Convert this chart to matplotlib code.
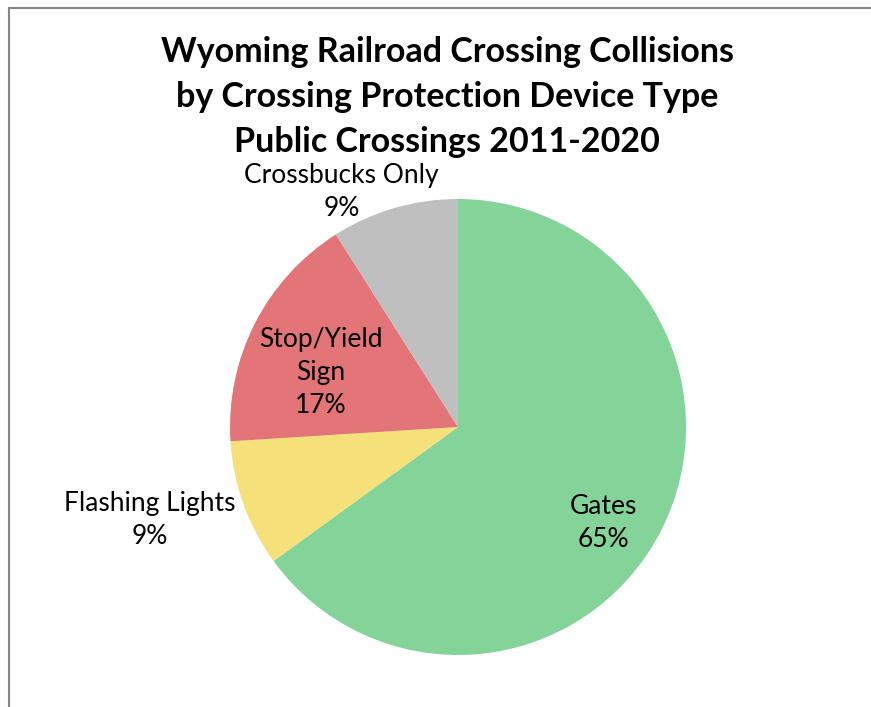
import matplotlib
matplotlib.use("Agg")
import matplotlib.pyplot as plt
from matplotlib.lines import Line2D

plt.rcParams["font.family"] = ["Lato", "DejaVu Sans"]

# Collisions by protection device type, share of total (%)
categories = ["Gates", "Flashing Lights", "Stop/Yield\nSign", "Crossbucks Only"]
shares = [65, 9, 17, 9]
colors = ["#84D49A", "#F5E07A", "#E37477", "#BFBFBF"]

# label anchor points in pie data units (radius = 1)
label_pos = [(0.64, -0.42), (-1.35, -0.41), (-0.60, 0.24), (-0.51, 1.03)]

title_lines = [
    "Wyoming Railroad Crossing Collisions",
    "by Crossing Protection Device Type",
    "Public Crossings 2011-2020",
]

W, H = 871, 707
fig = plt.figure(figsize=(W / 100, H / 100), dpi=100)

# frame: top and left edges only
fig.add_artist(Line2D([8.5 / W, 8.5 / W], [0, 1 - 7.5 / H], transform=fig.transFigure,
                      color="#858585", lw=1.5))
fig.add_artist(Line2D([8.5 / W, 1], [1 - 7.5 / H, 1 - 7.5 / H], transform=fig.transFigure,
                      color="#858585", lw=1.5))

cx, cy, r = 458, 427, 228
ax = fig.add_axes([(cx - r) / W, (H - cy - r) / H, 2 * r / W, 2 * r / H])
ax.pie(shares, colors=colors, startangle=90, counterclock=False, radius=1,
       wedgeprops=dict(linewidth=0))
ax.set_xlim(-1, 1)
ax.set_ylim(-1, 1)
ax.set_aspect("equal")
ax.axis("off")

for name, pct, (lx, ly) in zip(categories, shares, label_pos):
    ax.text(lx, ly, f"{name}\n{pct}%", ha="center", va="center", fontsize=19,
            color="#000000", linespacing=1.4, clip_on=False)

for i, line in enumerate(title_lines):
    fig.text(447 / W, 1 - (52 + 45 * i) / H, line, ha="center", va="center",
             fontsize=24.5, fontweight="bold", color="#000000")

fig.savefig("out.png", dpi=100)
